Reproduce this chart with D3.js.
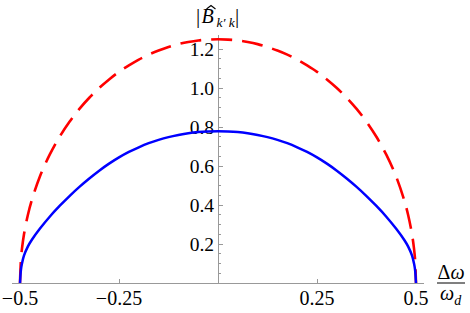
<!DOCTYPE html>
<html>
<head>
<meta charset="utf-8">
<script src="https://cdn.jsdelivr.net/npm/d3@7"></script>
<style>
  html, body { margin: 0; padding: 0; background: #fff; }
  svg { display: block; }
</style>
</head>
<body>
<svg id="chart" width="470" height="313"></svg>
<script>
// ---- data ----
const xValues = [-0.5, -0.4975, -0.495, -0.49, -0.48, -0.47, -0.45, -0.425, -0.4, -0.375, -0.35, -0.325, -0.3, -0.275, -0.25, -0.225, -0.2, -0.175, -0.15, -0.125, -0.1, -0.075, -0.05, -0.025, 0,
                 0.025, 0.05, 0.075, 0.1, 0.125, 0.15, 0.175, 0.2, 0.225, 0.25, 0.275, 0.3, 0.325, 0.35, 0.375, 0.4, 0.425, 0.45, 0.47, 0.48, 0.49, 0.495, 0.4975, 0.5];
const redValues = [0, 0.125, 0.176, 0.249, 0.35, 0.426, 0.545, 0.658, 0.75, 0.827, 0.893, 0.95, 1.0, 1.044, 1.083, 1.116, 1.146, 1.171, 1.192, 1.21, 1.225, 1.236, 1.244, 1.248, 1.25,
                   1.248, 1.244, 1.236, 1.225, 1.21, 1.192, 1.171, 1.146, 1.116, 1.083, 1.044, 1.0, 0.95, 0.893, 0.827, 0.75, 0.658, 0.545, 0.426, 0.35, 0.249, 0.176, 0.125, 0];
const blueValues = [0, 0.07, 0.10, 0.14, 0.188, 0.222, 0.278, 0.34, 0.395, 0.446, 0.493, 0.536, 0.576, 0.612, 0.644, 0.672, 0.696, 0.717, 0.734, 0.748, 0.759, 0.768, 0.774, 0.777, 0.778,
                    0.777, 0.774, 0.768, 0.759, 0.748, 0.734, 0.717, 0.696, 0.672, 0.644, 0.612, 0.576, 0.536, 0.493, 0.446, 0.395, 0.34, 0.278, 0.222, 0.188, 0.14, 0.10, 0.07, 0];
const xTickValues = [-0.5, -0.25, 0.25, 0.5];
const xTickLabels = ["\u22120.5", "\u22120.25", "0.25", "0.5"];
const yTickValues = [0.2, 0.4, 0.6, 0.8, 1.0, 1.2];
const yTickLabels = ["0.2", "0.4", "0.6", "0.8", "1.0", "1.2"];
const yMinorValues = [0.05, 0.1, 0.15, 0.25, 0.3, 0.35, 0.45, 0.5, 0.55, 0.65, 0.7, 0.75, 0.85, 0.9, 0.95, 1.05, 1.1, 1.15, 1.25];

// ---- pick an installed serif font ----
function pickSerif() {
  const cands = ["Liberation Serif", "Times New Roman", "Tinos", "DejaVu Serif", "Noto Serif", "FreeSerif", "Nimbus Roman", "Times"];
  const c = document.createElement("canvas").getContext("2d");
  const s = "Bk0.25 wWmiIl1";
  const w = f => { c.font = "40px " + f; return c.measureText(s).width; };
  const mono = w("monospace"), sans = w("sans-serif");
  for (const f of cands) {
    const a = w("'" + f + "', monospace"), b = w("'" + f + "', sans-serif");
    if (a !== mono || b !== sans) return "'" + f + "'";
  }
  return "serif";
}
const serifFont = pickSerif() + ", serif";

// ---- layout ----
const svg = d3.select("#chart").attr("font-family", serifFont);
const x = d3.scaleLinear().domain([-0.5, 0.5]).range([20, 416]);
const y = d3.scaleLinear().domain([0, 1.2]).range([283, 49]);
const axisColor = "#999";
const x0 = x(0), y0 = y(0);

// axes lines
svg.append("line").attr("x1", x(-0.5202)).attr("x2", x(0.5202)).attr("y1", y0).attr("y2", y0)
  .attr("stroke", axisColor).attr("stroke-width", 1).attr("shape-rendering", "crispEdges");
svg.append("line").attr("x1", x0).attr("x2", x0).attr("y1", y0).attr("y2", y(1.272))
  .attr("stroke", axisColor).attr("stroke-width", 1).attr("shape-rendering", "crispEdges");

// x ticks
svg.selectAll(".xt").data(xTickValues).enter().append("line")
  .attr("x1", d => x(d)).attr("x2", d => x(d)).attr("y1", y0).attr("y2", y0 - 4)
  .attr("stroke", axisColor).attr("shape-rendering", "crispEdges");
svg.selectAll(".xl").data(xTickValues).enter().append("text")
  .attr("x", d => x(d)).attr("y", 304.5).attr("text-anchor", "middle")
  .attr("font-size", 20).text((d, i) => xTickLabels[i]);

// y ticks
svg.selectAll(".yt").data(yTickValues).enter().append("line")
  .attr("x1", x0).attr("x2", x0 + 4.5).attr("y1", d => y(d)).attr("y2", d => y(d))
  .attr("stroke", axisColor).attr("shape-rendering", "crispEdges");
svg.selectAll(".ym").data(yMinorValues).enter().append("line")
  .attr("x1", x0).attr("x2", x0 + 2.7).attr("y1", d => y(d)).attr("y2", d => y(d))
  .attr("stroke", axisColor).attr("shape-rendering", "crispEdges");
svg.selectAll(".yl").data(yTickValues).enter().append("text")
  .attr("x", x0 - 4).attr("y", d => y(d) + 6.6).attr("text-anchor", "end")
  .attr("font-size", 19.5).text((d, i) => yTickLabels[i]);

// y axis label |B̂_{k' k}|
const yl = svg.append("g");
yl.append("text").attr("x", 196).attr("y", 23).attr("font-size", 21).text("|");
yl.append("text").attr("x", 201.5).attr("y", 23).attr("font-size", 20).attr("font-style", "italic").text("B");
yl.append("path").attr("d", "M206.5,9 L211,5.5 L215.5,9").attr("fill", "none").attr("stroke", "#000").attr("stroke-width", 1.1);
yl.append("text").attr("x", 216.5).attr("y", 26.5).attr("font-size", 13.5).attr("font-style", "italic").text("k\u2032 k");
yl.append("text").attr("x", 235).attr("y", 23).attr("font-size", 21).text("|");

// x axis label Δω / ω_d
const xl = svg.append("g");
const xt = xl.append("text").attr("x", 451).attr("y", 279).attr("text-anchor", "middle").attr("font-size", 20);
xt.append("tspan").text("\u0394");
xt.append("tspan").attr("font-style", "italic").text("\u03C9");
xl.append("line").attr("x1", 437).attr("x2", 465).attr("y1", 283).attr("y2", 283)
  .attr("stroke", "#000").attr("stroke-width", 1);
const xb = xl.append("text").attr("x", 440).attr("y", 299.5).attr("font-size", 20);
xb.append("tspan").attr("font-style", "italic").text("\u03C9");
xb.append("tspan").attr("font-style", "italic").attr("font-size", 14).attr("dy", 5).text("d");

// curves
const pts = s => xValues.map((v, i) => [v, s[i]]);
const line = d3.line().x(d => x(d[0])).y(d => y(d[1])).curve(d3.curveCatmullRom.alpha(0.5));

svg.append("path").attr("d", line(pts(redValues)))
  .attr("fill", "none").attr("stroke", "#ff0000").attr("stroke-width", 2.6)
  .attr("stroke-dasharray", "21,10");
svg.append("path").attr("d", line(pts(blueValues)))
  .attr("fill", "none").attr("stroke", "#0000ff").attr("stroke-width", 2.5);
</script>
</body>
</html>
